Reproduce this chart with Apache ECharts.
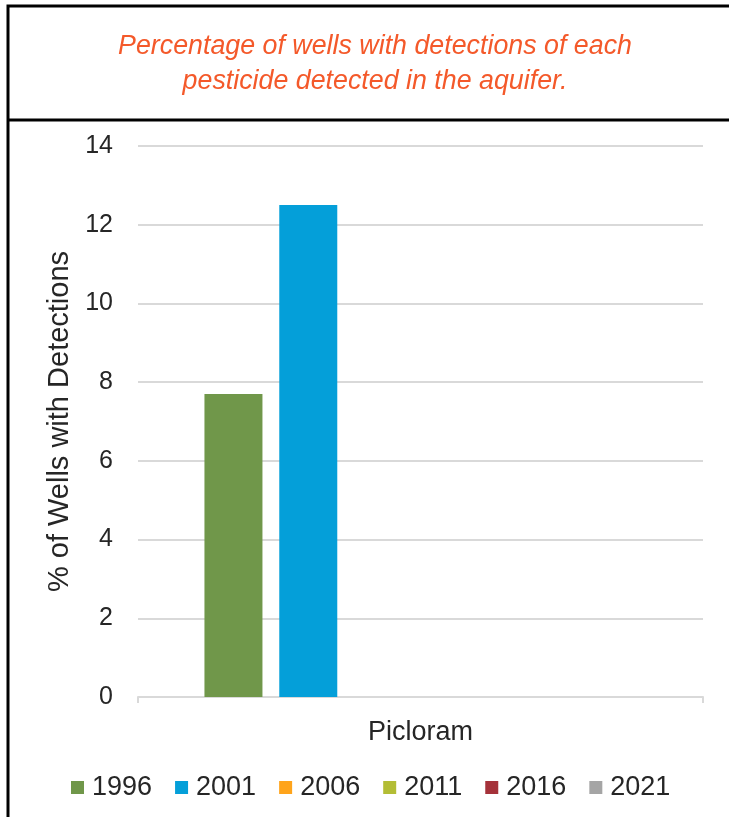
<!DOCTYPE html>
<html>
<head>
<meta charset="utf-8">
<script src="https://cdn.jsdelivr.net/npm/echarts@6/dist/echarts.min.js"></script>
<style>
  html, body { margin: 0; padding: 0; background: #fff; }
  #chart { width: 729px; height: 817px; }
</style>
</head>
<body>
<div id="chart"></div>
<script>
// Pesticide detections by sampling year
const categories = ['Picloram'];
const years = ['1996', '2001', '2006', '2011', '2016', '2021'];
const values1996 = [7.7];
const values2001 = [12.5];
const values2006 = [0];
const values2011 = [0];
const values2016 = [0];
const values2021 = [0];
const yTicks = [0, 2, 4, 6, 8, 10, 12, 14];

const seriesValues = [values1996, values2001, values2006, values2011, values2016, values2021];
const colors = ['#70974A', '#049FD9', '#FFA41B', '#B3BD35', '#A5323A', '#A5A5A5'];
const font = '"Liberation Sans", Arial, sans-serif';
const textColor = '#262626';

const chart = echarts.init(document.getElementById('chart'), null, { renderer: 'canvas' });

chart.setOption({
  animation: false,
  backgroundColor: '#fff',
  color: colors,
  title: {
    text: 'Percentage of wells with detections of each\npesticide detected in the aquifer.',
    left: 370,
    textAlign: 'center',
    top: 24,
    textStyle: {
      fontFamily: font,
      fontStyle: 'italic',
      fontWeight: 'normal',
      fontSize: 26.8,
      lineHeight: 35,
      color: '#F4592A'
    }
  },
  graphic: [
    { type: 'polyline', shape: { points: [[8, 830], [8, 6], [740, 6]] },
      style: { stroke: '#000', lineWidth: 3, fill: null } },
    { type: 'line', shape: { x1: 8, y1: 120, x2: 740, y2: 120 },
      style: { stroke: '#000', lineWidth: 3 } }
  ],
  legend: {
    data: years,
    left: 66,
    top: 769,
    icon: 'rect',
    itemWidth: 13,
    itemHeight: 13,
    itemGap: 23,
    textStyle: { fontFamily: font, fontSize: 27, color: textColor, padding: [0, 0, 0, 3] }
  },
  grid: { left: 138, right: 26, top: 146, bottom: 120, containLabel: false },
  xAxis: {
    type: 'category',
    data: categories,
    axisLine: { lineStyle: { color: '#D9D9D9', width: 2 } },
    axisTick: { show: true, length: 6, lineStyle: { color: '#D9D9D9', width: 2 } },
    axisLabel: { margin: 22, fontFamily: font, fontSize: 27, color: textColor }
  },
  yAxis: {
    type: 'value',
    min: yTicks[0],
    max: yTicks[yTicks.length - 1],
    interval: 2,
    name: '% of Wells with Detections',
    nameLocation: 'middle',
    nameGap: 61,
    nameTextStyle: { fontFamily: font, fontSize: 29, color: textColor },
    axisLine: { show: false },
    axisTick: { show: false },
    axisLabel: { margin: 25, fontFamily: font, fontSize: 25, color: textColor },
    splitLine: { lineStyle: { color: '#D9D9D9', width: 2 } }
  },
  series: years.map((y, i) => ({
    name: y,
    type: 'bar',
    data: seriesValues[i],
    barWidth: 58,
    barGap: '29%',
    itemStyle: { color: colors[i] }
  }))
});
</script>
</body>
</html>
